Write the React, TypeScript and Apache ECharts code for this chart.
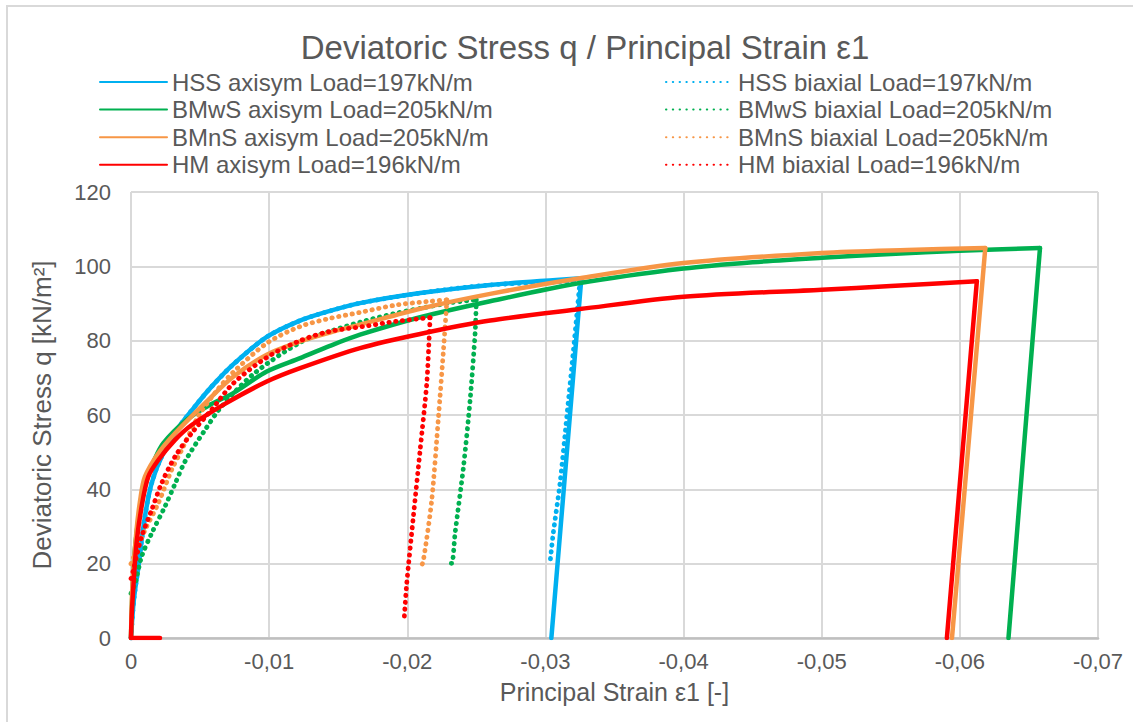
import React, { useEffect, useRef } from "react";
import * as echarts from "echarts";

const TEXT = "#595959";
const FONT = "'Liberation Sans', Arial, sans-serif";

const NAMES = [
  "HSS axisym Load=197kN/m",
  "HSS biaxial Load=197kN/m",
  "BMwS axisym Load=205kN/m",
  "BMwS biaxial Load=205kN/m",
  "BMnS axisym Load=205kN/m",
  "BMnS biaxial Load=205kN/m",
  "HM axisym Load=196kN/m",
  "HM biaxial Load=196kN/m",
];
const COLORS = ["#00B0F0", "#00B0F0", "#00B050", "#00B050", "#F79646", "#F79646", "#FF0000", "#FF0000"];
const DOTTED = [false, true, false, true, false, true, false, true];

const X_TICKS = [0, -0.01, -0.02, -0.03, -0.04, -0.05, -0.06, -0.07];

// principal strain ε1 and deviatoric stress q for each curve
const hssAxiStrain = [0, -0.0002, -0.00053, -0.00101, -0.0015, -0.00222, -0.00342, -0.00463, -0.0058, -0.0074, -0.00983, -0.01224, -0.0144, -0.01658, -0.02093, -0.026, -0.0326, -0.03043];
const hssAxiQ = [0, 10, 19.2, 32.7, 41.7, 48.8, 56.5, 62.3, 67.5, 73.6, 81, 85.4, 88, 90.1, 92.8, 95, 96.8, 0];

const hssBiStrain = [0, -0.0002, -0.00053, -0.00101, -0.0015, -0.00222, -0.00342, -0.00463, -0.0058, -0.0074, -0.00983, -0.01224, -0.0144, -0.01658, -0.02093, -0.026, -0.0325, -0.03203, -0.03155, -0.03106, -0.03057, -0.03034];
const hssBiQ = [0, 10, 19.2, 32.7, 41.7, 48.8, 56.5, 62.3, 67.5, 73.6, 81, 85.4, 88, 90.1, 92.8, 95, 96, 77.5, 59.6, 41.7, 28.3, 20.5];

const bmwsAxiStrain = [0, -0.0001, -0.0003, -0.0007, -0.00113, -0.0017, -0.00234, -0.00403, -0.0056, -0.0074, -0.00983, -0.01224, -0.0144, -0.01658, -0.02093, -0.026, -0.0325, -0.04, -0.045, -0.05, -0.055, -0.06, -0.0658, -0.06352];
const bmwsAxiQ = [0, 12, 24.6, 36, 42.5, 48, 52.4, 58.7, 62.5, 65.9, 71.7, 75.3, 78.6, 81.6, 86.3, 90.6, 95.5, 99.4, 101.1, 102.3, 103.3, 104.2, 104.9, 0];

const bmwsBiStrain = [0, -0.0003, -0.00077, -0.0015, -0.00246, -0.00319, -0.00391, -0.00536, -0.00656, -0.00886, -0.01224, -0.0144, -0.0168, -0.0192, -0.02165, -0.0233, -0.025, -0.02491, -0.02455, -0.02407, -0.02346, -0.02322, -0.02298];
const bmwsBiQ = [12, 14.7, 21.9, 28.2, 35.4, 41.5, 47.5, 56, 62.3, 71, 79.5, 82.5, 85.2, 87.4, 89.2, 90.3, 91, 82, 64.1, 46.1, 28.2, 20.1, 20.1];

const bmnsAxiStrain = [0, -0.0001, -0.0004, -0.0007, -0.00101, -0.00198, -0.00319, -0.0056, -0.0074, -0.00983, -0.01224, -0.0144, -0.01658, -0.02093, -0.026, -0.0325, -0.04, -0.05, -0.0562, -0.06184, -0.05943];
const bmnsAxiQ = [0, 14, 29, 38, 43.4, 49.7, 55.1, 64.1, 70.3, 76.2, 79.8, 82.2, 84.3, 88.6, 92.6, 96.8, 100.9, 103.6, 104.4, 104.9, 0];

const bmnsBiStrain = [0, -0.00101, -0.00198, -0.00294, -0.00367, -0.00487, -0.0062, -0.0074, -0.00983, -0.01224, -0.0144, -0.01658, -0.0192, -0.02165, -0.02287, -0.02262, -0.02226, -0.02177, -0.02117, -0.02093];
const bmnsBiQ = [20, 29, 36.3, 45.2, 50.6, 59.6, 66.5, 71.5, 79.3, 83.8, 86, 87.6, 89.6, 90.6, 91, 77.5, 59.6, 37.1, 21, 18.3];

const hmAxiStrain = [0, -0.00005, -0.00017, -0.0004, -0.00077, -0.00125, -0.00198, -0.00319, -0.00439, -0.0068, -0.00983, -0.01224, -0.01658, -0.02093, -0.026, -0.0325, -0.04, -0.05, -0.055, -0.06123, -0.05906];
const hmAxiQ = [0, 6, 13.8, 25.5, 35.4, 43.4, 47.9, 53.3, 57.3, 63, 69, 72.6, 78, 81.8, 85.4, 88.5, 91.8, 93.7, 94.7, 96, 0];
// short stretch at q = 0 drawn with the HM axisym curve
const hmBaseStrain = [0, -0.0021];
const hmBaseQ = [0, 0];

const hmBiStrain = [0, -0.00017, -0.00077, -0.0015, -0.00222, -0.00319, -0.00439, -0.00583, -0.0074, -0.00983, -0.01224, -0.0144, -0.0168, -0.0192, -0.02165, -0.0216, -0.02141, -0.02093, -0.02044, -0.01996, -0.01977];
const hmBiQ = [16, 18.3, 27.3, 34.5, 41.7, 48.8, 55.1, 61.4, 68.5, 75.5, 80, 82.5, 83.8, 85.2, 86.2, 82, 68.5, 50.6, 32.7, 14.7, 4.8];

const STRAINS = [hssAxiStrain, hssBiStrain, bmwsAxiStrain, bmwsBiStrain, bmnsAxiStrain, bmnsBiStrain, hmAxiStrain, hmBiStrain];
const QS = [hssAxiQ, hssBiQ, bmwsAxiQ, bmwsBiQ, bmnsAxiQ, bmnsBiQ, hmAxiQ, hmBiQ];

const pairs = (xs: number[], ys: number[]) => xs.map((x, i) => [x, ys[i]]);

export default function App() {
  const ref = useRef<HTMLDivElement>(null);
  useEffect(() => {
    if (!ref.current) return;
    const chart = echarts.init(ref.current, null, { renderer: "svg" });
    const styleFor = (i: number) =>
      DOTTED[i]
        ? { color: COLORS[i], width: 4.8, type: [0.4, 6.4], cap: "round", join: "round" }
        : { color: COLORS[i], width: 4.5, type: "solid", cap: "round", join: "round" };
    const series: any[] = [];
    NAMES.forEach((name, i) => {
      const pts = pairs(STRAINS[i], QS[i]);
      const q = QS[i];
      let p = 0;
      q.forEach((v, k) => {
        if (v > q[p]) p = k;
      });
      const common = {
        name,
        type: "line",
        symbol: "none",
        showSymbol: false,
        silent: true,
        color: COLORS[i],
        lineStyle: styleFor(i),
        z: 2 + i,
      };
      series.push({ ...common, data: pts.slice(0, p + 1), smooth: 0.3 });
      series.push({ ...common, data: pts.slice(p), smooth: 0.25 });
      if (i === 6) {
        series.push({ ...common, data: pairs(hmBaseStrain, hmBaseQ), smooth: false });
      }
    });
    const legendBase = {
      orient: "vertical",
      top: 70,
      padding: 0,
      itemWidth: 67,
      itemHeight: 14,
      itemGap: 3.6,
      selectedMode: false,
      itemStyle: { opacity: 0 },
      textStyle: { color: TEXT, fontSize: 24, fontFamily: FONT, lineHeight: 24 },
    };
    chart.setOption({
      animation: false,
      backgroundColor: "#ffffff",
      textStyle: { fontFamily: FONT },
      title: {
        text: "Deviatoric Stress q / Principal Strain ε1",
        left: 580,
        top: 26,
        textAlign: "center",
        textStyle: { color: TEXT, fontSize: 33, fontWeight: "normal", fontFamily: FONT },
      },
      legend: [
        { ...legendBase, left: 99, data: NAMES.filter((_, i) => !DOTTED[i]) },
        { ...legendBase, left: 665, data: NAMES.filter((_, i) => DOTTED[i]) },
      ],
      graphic: [
        {
          type: "rect",
          shape: { x: 7, y: 6, width: 1200, height: 800 },
          style: { fill: "none", stroke: "#d9d9d9", lineWidth: 2 },
          silent: true,
          z: -10,
        },
      ],
      grid: { left: 131, right: 35, top: 192, bottom: 84, containLabel: false },
      xAxis: {
        type: "value",
        min: -0.07,
        max: 0,
        interval: 0.01,
        inverse: true,
        name: "Principal Strain ε1 [-]",
        nameLocation: "middle",
        nameGap: 41,
        nameTextStyle: { color: TEXT, fontSize: 25, fontFamily: FONT },
        axisLine: { show: true, onZero: false, lineStyle: { color: "#bfbfbf", width: 2.5 } },
        axisTick: { show: false },
        splitLine: { show: true, lineStyle: { color: "#d9d9d9", width: 2 } },
        axisLabel: {
          color: TEXT,
          fontSize: 22,
          fontFamily: FONT,
          margin: 12,
          formatter: (v: number) => {
            const t = X_TICKS.find((k) => Math.abs(k - v) < 1e-9);
            const val = t === undefined ? v : t;
            return val === 0 ? "0" : val.toFixed(2).replace(".", ",");
          },
        },
      },
      yAxis: {
        type: "value",
        min: 0,
        max: 120,
        interval: 20,
        name: "Deviatoric Stress q [kN/m²]",
        nameLocation: "middle",
        nameGap: 76,
        nameTextStyle: { color: TEXT, fontSize: 26, fontFamily: FONT },
        axisLine: { show: false },
        axisTick: { show: false },
        splitLine: { show: true, lineStyle: { color: "#d9d9d9", width: 2 } },
        axisLabel: { color: TEXT, fontSize: 22, fontFamily: FONT, margin: 20 },
      },
      series,
    });
    return () => chart.dispose();
  }, []);
  return (
    <div
      ref={ref}
      style={{ position: "fixed", left: 0, top: 0, width: 1133, height: 722, background: "#fff" }}
    />
  );
}
